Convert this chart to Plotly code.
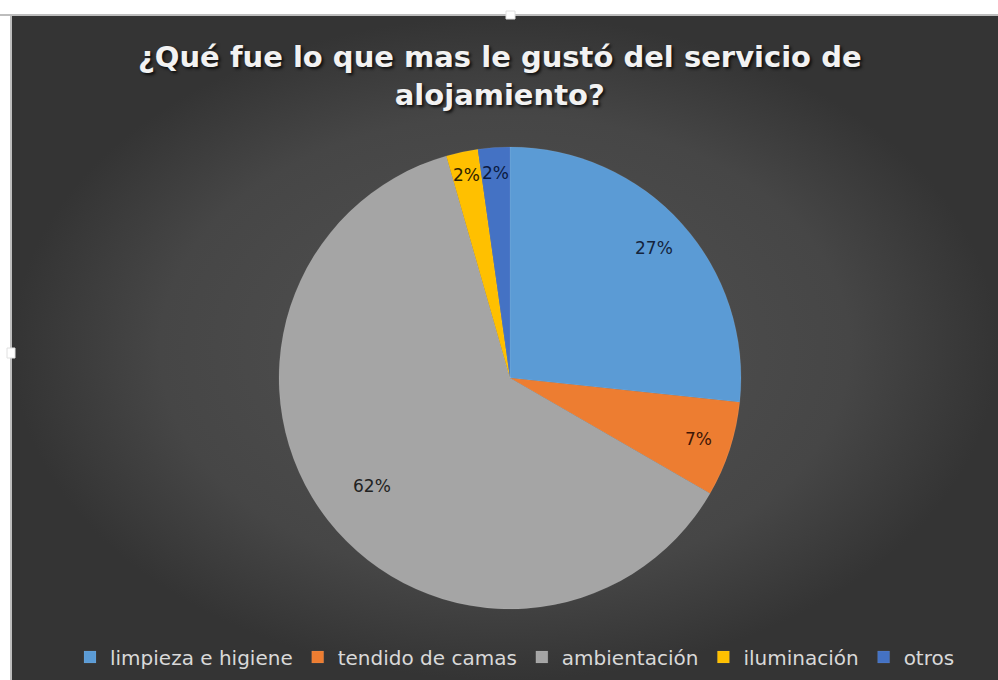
import math
import plotly.graph_objects as go

# Survey answers (number of respondents per option)
categories = ["limpieza e higiene", "tendido de camas", "ambientación", "iluminación", "otros"]
counts = [12, 3, 28, 1, 1]
slice_colors = ["#5B9BD5", "#ED7D31", "#A5A5A5", "#FFC000", "#4472C4"]
label_colors = ["#14243d", "#3d1606", "#222222", "#2e2300", "#0b1a40"]
# radial placement of each percentage label, as a fraction of the pie radius
label_radius = [0.84, 0.86, 0.76, 0.90, 0.89]

W, H = 998, 680
CX, CY, R = 510, 378, 231

fig = go.Figure()

# dark chart area with a soft radial gradient
fig.add_trace(go.Scatter(
    x=[12, W, W, 12, 12], y=[16, 16, H, H, 16],
    mode="lines", fill="toself", line=dict(width=0),
    fillgradient=dict(type="radial",
                      colorscale=[[0, "#525252"], [0.7, "#464646"], [1, "#343434"]]),
    hoverinfo="skip", showlegend=False,
))

fig.add_trace(go.Pie(
    labels=categories, values=counts, sort=False, direction="clockwise", rotation=0,
    marker=dict(colors=slice_colors, line=dict(color="rgba(255,255,255,0.15)", width=0.5)),
    textinfo="none", hoverinfo="label+percent",
    domain=dict(x=[(CX - R) / W, (CX + R) / W], y=[1 - (CY + R) / H, 1 - (CY - R) / H]),
    showlegend=True,
))

# percentage labels at the mid-angle of each slice
total = sum(counts)
annotations = []
cum = 0
for val, rf, col in zip(counts, label_radius, label_colors):
    mid = (cum + val / 2) / total * 2 * math.pi
    cum += val
    x = CX + rf * R * math.sin(mid)
    y = CY - rf * R * math.cos(mid)
    annotations.append(dict(
        x=x, y=y, xref="x", yref="y", text=f"{round(val / total * 100)}%",
        showarrow=False, font=dict(family="DejaVu Sans", size=17, color=col),
    ))

# chart title
annotations.append(dict(
    x=500, y=76, xref="x", yref="y", xanchor="center", yanchor="middle",
    text="¿Qué fue lo que mas le gustó del servicio de<br>alojamiento?",
    showarrow=False,
    font=dict(family="DejaVu Sans", size=29, weight="bold", color="#f2f2f2",
              shadow="2px 2px 3px rgba(0,0,0,0.75)"),
))

shapes = [
    # window frame lines
    dict(type="line", xref="x", yref="y", x0=0, x1=W, y0=15, y1=15,
         line=dict(color="#bdbdbd", width=2), layer="above"),
    dict(type="line", xref="x", yref="y", x0=11, x1=11, y0=15, y1=H,
         line=dict(color="#bdbdbd", width=2), layer="above"),
    # selection handles
    dict(type="rect", xref="x", yref="y", x0=506, x1=515, y0=11, y1=19,
         fillcolor="white", line=dict(color="#e0e0e0", width=1), layer="above"),
    dict(type="rect", xref="x", yref="y", x0=7, x1=15, y0=348, y1=358,
         fillcolor="white", line=dict(color="#e0e0e0", width=1), layer="above"),
]

fig.update_layout(
    width=W, height=H,
    margin=dict(l=0, r=0, t=0, b=0),
    paper_bgcolor="white", plot_bgcolor="rgba(0,0,0,0)",
    xaxis=dict(range=[0, W], visible=False, fixedrange=True, domain=[0, 1]),
    yaxis=dict(range=[H, 0], visible=False, fixedrange=True, domain=[0, 1]),
    legend=dict(
        orientation="h", x=515 / W, xanchor="center", y=1 - 657 / H, yanchor="middle",
        font=dict(family="DejaVu Sans", size=20, color="#d9d9d9"),
        bgcolor="rgba(0,0,0,0)", itemclick=False, itemdoubleclick=False,
        traceorder="normal",
    ),
    annotations=annotations,
    shapes=shapes,
)

fig.write_html("out.html")
